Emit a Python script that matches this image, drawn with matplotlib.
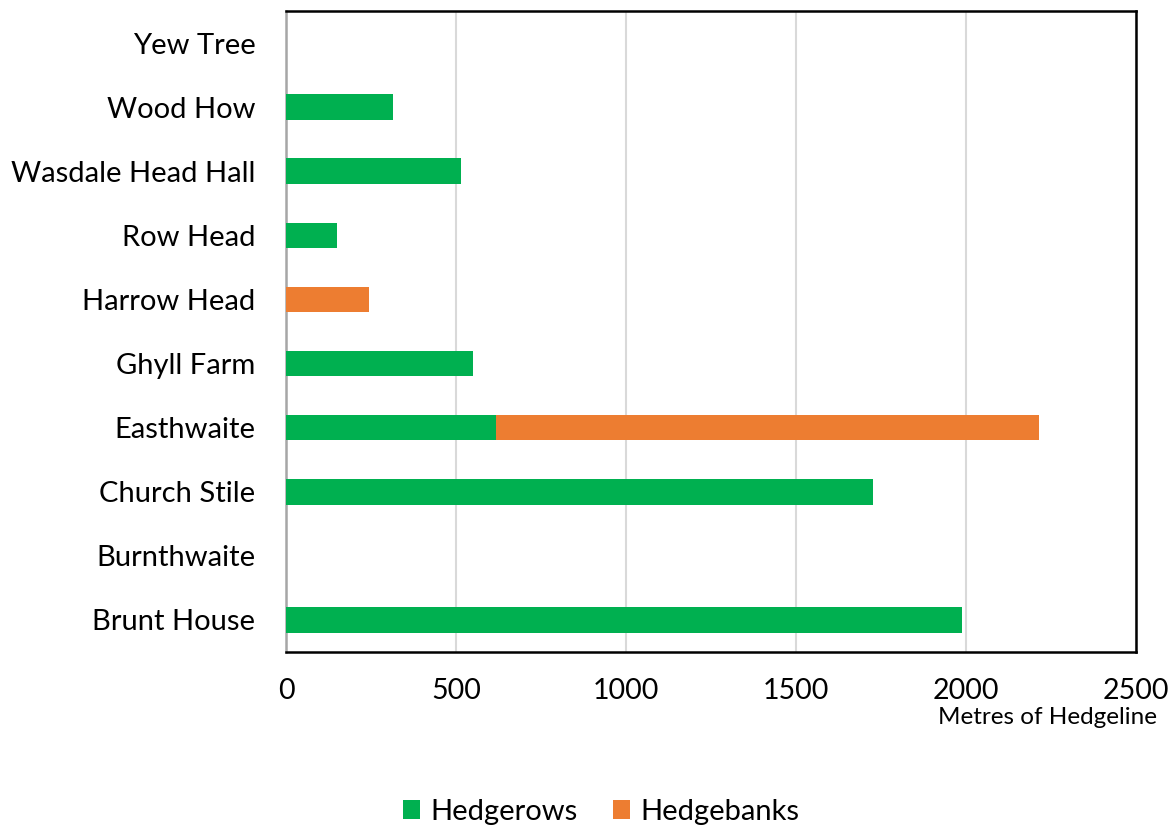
import matplotlib
matplotlib.use("Agg")
import matplotlib.pyplot as plt
from matplotlib.patches import Patch

# Farm holdings, listed bottom to top as drawn
farms = ["Brunt House", "Burnthwaite", "Church Stile", "Easthwaite", "Ghyll Farm",
         "Harrow Head", "Row Head", "Wasdale Head Hall", "Wood How", "Yew Tree"]
hedgerows = [1989, 0, 1727, 617, 549, 0, 149, 514, 315, 0]
hedgebanks = [0, 0, 0, 1597, 0, 244, 0, 0, 0, 0]
x_ticks = [0, 500, 1000, 1500, 2000, 2500]

GREEN = "#00B050"
ORANGE = "#ED7D31"

plt.rcParams["font.family"] = ["Lato", "DejaVu Sans"]

fig = plt.figure(figsize=(11.73, 8.27), dpi=100)
ax = fig.add_axes([286 / 1173, 1 - 652 / 827, 850 / 1173, 641 / 827])

ypos = range(len(farms))
ax.barh(ypos, hedgerows, height=0.4, color=GREEN, zorder=3)
ax.barh(ypos, hedgebanks, left=hedgerows, height=0.4, color=ORANGE, zorder=3)

ax.set_xlim(0, 2500)
ax.set_ylim(-0.5, len(farms) - 0.5)
ax.set_xticks(x_ticks)
ax.set_xticklabels([str(t) for t in x_ticks], fontsize=20.5)
ax.set_yticks(list(ypos))
ax.set_yticklabels(farms, fontsize=21)
ax.tick_params(axis="both", length=0)
ax.tick_params(axis="x", pad=19)
ax.tick_params(axis="y", pad=22)

ax.grid(axis="x", color="#D9D9D9", linewidth=1.5, zorder=0)
ax.set_axisbelow(True)

for side in ["top", "right", "bottom"]:
    ax.spines[side].set_color("black")
    ax.spines[side].set_linewidth(1.8)
ax.spines["left"].set_color("#A6A6A6")
ax.spines["left"].set_linewidth(1.8)

fig.text(1157 / 1173, 1 - 707 / 827, "Metres of Hedgeline", fontsize=17.5,
         ha="right", va="top")

handles = [Patch(facecolor=GREEN, label="Hedgerows"),
           Patch(facecolor=ORANGE, label="Hedgebanks")]
fig.legend(handles=handles, loc="center", bbox_to_anchor=(601 / 1173, 1 - 812 / 827),
           ncol=2, frameon=False, fontsize=21, handlelength=0.6, handleheight=0.6,
           handletextpad=0.35, columnspacing=1.2)

fig.savefig("out.png", dpi=100)
